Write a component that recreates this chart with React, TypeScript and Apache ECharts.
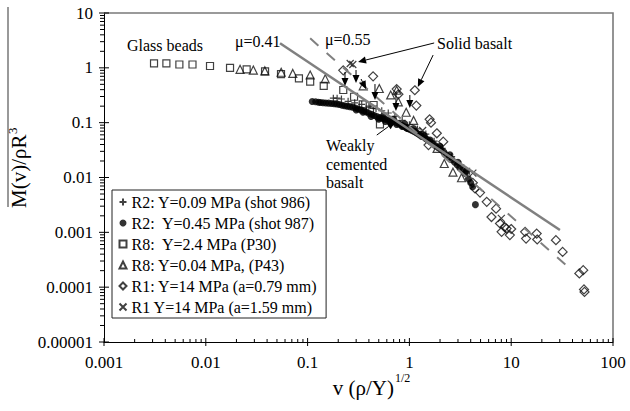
import React, { useEffect, useRef } from 'react';
import * as echarts from 'echarts';

const FONT = 'Liberation Serif, Times New Roman, serif';

// Axis ticks (log scales)
const xTickLabels = ['0.001', '0.01', '0.1', '1', '10', '100'];
const yTickLabels = ['0.00001', '0.0001', '0.001', '0.01', '0.1', '1', '10'];
const X_MIN = 0.001;
const X_MAX = 100;
const Y_MIN = 0.00001;
const Y_MAX = 10;

const seriesNames = [
  'R2: Y=0.09 MPa (shot 986)',
  'R2:  Y=0.45 MPa (shot 987)',
  'R8:  Y=2.4 MPa (P30)',
  'R8: Y=0.04 MPa, (P43)',
  'R1: Y=14 MPa (a=0.79 mm)',
  'R1 Y=14 MPa (a=1.59 mm)',
];

// R2, Y=0.09 MPa, shot 986
const r2Shot986 = [
  [0.179, 0.28], [0.195, 0.28], [0.215, 0.27], [0.25, 0.245], [0.29, 0.23],
  [0.34, 0.215], [0.4, 0.2], [0.47, 0.18], [0.535, 0.165], [0.62, 0.15],
  [0.72, 0.13], [0.85, 0.11], [1.0, 0.092], [1.2, 0.077], [1.45, 0.062],
  [1.75, 0.046], [2.1, 0.034], [2.6, 0.024], [3.2, 0.017], [3.9, 0.013],
];

// R2, Y=0.45 MPa, shot 987
const r2Shot987 = [
  [0.111, 0.243], [0.12, 0.24], [0.128, 0.235], [0.134, 0.233], [0.142, 0.231],
  [0.151, 0.229], [0.161, 0.227], [0.172, 0.224], [0.183, 0.222], [0.193, 0.22],
  [0.205, 0.214], [0.218, 0.208], [0.231, 0.203], [0.245, 0.199], [0.26, 0.196],
  [0.277, 0.192], [0.295, 0.185], [0.313, 0.178], [0.333, 0.171], [0.355, 0.164],
  [0.377, 0.156], [0.399, 0.149], [0.425, 0.142], [0.45, 0.135], [0.479, 0.129],
  [0.51, 0.124], [0.54, 0.12], [0.574, 0.116], [0.61, 0.112], [0.65, 0.109],
  [0.689, 0.105], [0.74, 0.1], [0.79, 0.095], [0.826, 0.091], [0.87, 0.087],
  [0.92, 0.082], [0.96, 0.079], [1.0, 0.076], [1.05, 0.073], [1.1, 0.07],
  [1.15, 0.067], [1.19, 0.064], [1.25, 0.06], [1.32, 0.056], [1.43, 0.052],
  [1.5, 0.049], [1.6, 0.045], [1.71, 0.041], [1.8, 0.038], [1.92, 0.035],
  [2.05, 0.032], [2.18, 0.029], [2.3, 0.026], [2.46, 0.0234], [2.62, 0.021],
  [2.78, 0.019], [2.95, 0.0169], [3.12, 0.015], [3.32, 0.0135], [3.54, 0.0119],
  [3.8, 0.0095], [4.0, 0.008], [4.18, 0.0068], [4.45, 0.0032],
  [0.3, 0.17], [0.35, 0.155], [0.42, 0.13], [0.5, 0.115], [0.58, 0.105],
  [0.66, 0.1], [0.75, 0.093], [0.85, 0.085], [0.95, 0.078], [1.3, 0.062],
  [1.6, 0.048], [2.0, 0.037], [2.5, 0.026], [3.0, 0.019], [3.6, 0.013],
  [0.55, 0.13], [0.7, 0.115], [0.9, 0.095], [1.1, 0.078], [1.4, 0.058],
];

// R8, Y=2.4 MPa, P30 (glass beads)
const r8P30 = [
  [0.0031, 1.21], [0.0041, 1.21], [0.0055, 1.15], [0.0074, 1.15], [0.011, 1.08],
  [0.0173, 1.0], [0.0252, 0.94], [0.0382, 0.86], [0.0548, 0.77], [0.0822, 0.64],
  [0.106, 0.56], [0.144, 0.47], [0.224, 0.394], [0.286, 0.297], [0.348, 0.216],
  [0.41, 0.165], [0.445, 0.21], [0.514, 0.093],
];

// R8, Y=0.04 MPa, P43
const r8P43 = [
  [0.0217, 0.94], [0.0293, 0.91], [0.038, 0.88], [0.055, 0.83], [0.0715, 0.79],
  [0.106, 0.74], [0.149, 0.63], [0.352, 0.47], [0.506, 0.42], [0.655, 0.32],
  [0.75, 0.39], [0.778, 0.24], [0.93, 0.155], [1.1, 0.11], [1.87, 0.034],
  [2.2, 0.018], [2.68, 0.0125], [3.25, 0.0099],
];

// R1, Y=14 MPa, a=0.79 mm
const r1Small = [
  [0.224, 0.9], [0.44, 0.7], [0.75, 0.41], [0.78, 0.33], [1.13, 0.39],
  [1.17, 0.205], [1.58, 0.115], [1.63, 0.1], [1.54, 0.039], [1.86, 0.064],
  [2.15, 0.045], [4.2, 0.008], [4.41, 0.0063], [4.94, 0.0053], [5.75, 0.0036],
  [7.1, 0.0027], [6.4, 0.0019], [7.76, 0.00145], [8.05, 0.00102], [8.6, 0.00125],
  [9.0, 0.00117], [9.7, 0.00089], [10.0, 0.00115], [13.7, 0.00102], [14, 0.00077],
  [17.8, 0.00095], [18, 0.00074], [27.5, 0.00072], [32, 0.00044], [46.7, 0.000178],
  [51, 0.000204], [51.9, 0.000091], [52.5, 0.000082],
];

// R1, Y=14 MPa, a=1.59 mm
const r1Large = [
  [0.262, 1.2], [0.278, 1.15], [1.35, 0.072], [4.2, 0.012], [8.0, 0.0018],
];

// Power-law guide lines
const mu041Line = [[0.0536, 2.8], [30.1, 0.0011]];
const mu055Line = [[0.106, 3.45], [39.3, 0.000204]];

// Pointer arrows: [fromX, fromY, toX, toY] in data units
const arrows = [
  [1.75, 2.84, 0.313, 1.28],
  [1.71, 1.71, 1.21, 0.447],
  [0.478, 0.0594, 0.723, 0.104],
  [0.233, 0.837, 0.233, 0.466],
  [0.299, 0.912, 0.299, 0.529],
  [0.335, 0.625, 0.375, 0.41],
  [0.459, 0.506, 0.459, 0.258],
  [0.738, 0.361, 0.738, 0.163],
  [1.01, 0.319, 1.01, 0.185],
];

const hollow = { color: 'none', borderColor: '#111', borderWidth: 1.2 };

function scatter(name: string, data: number[][], symbol: string, size: number, itemStyle: any) {
  return {
    name,
    type: 'scatter',
    data,
    symbol,
    symbolSize: size,
    itemStyle,
    z: 2,
  };
}

export default function App() {
  const ref = useRef<HTMLDivElement>(null);

  useEffect(() => {
    if (!ref.current) return;
    document.body.style.margin = '0';
    const chart = echarts.init(ref.current, null, { renderer: 'svg' });

    const option: any = {
      animation: false,
      backgroundColor: '#fff',
      textStyle: { fontFamily: FONT },
      grid: { left: 104, right: 17, top: 13, bottom: 69, show: false },
      xAxis: {
        type: 'log',
        logBase: 10,
        min: X_MIN,
        max: X_MAX,
        axisLine: { show: true, lineStyle: { color: '#000', width: 1 } },
        axisTick: { show: false },
        splitLine: { show: false },
        axisLabel: {
          margin: 12,
          color: '#000',
          fontFamily: FONT,
          fontSize: 17,
          formatter: (v: number) => xTickLabels[Math.round(Math.log10(v)) + 3],
        },
      },
      yAxis: {
        type: 'log',
        logBase: 10,
        min: Y_MIN,
        max: Y_MAX,
        axisLine: { show: true, lineStyle: { color: '#000', width: 1 } },
        axisTick: { show: false },
        splitLine: { show: false },
        axisLabel: {
          margin: 11,
          color: '#000',
          fontFamily: FONT,
          fontSize: 17,
          formatter: (v: number) => yTickLabels[Math.round(Math.log10(v)) + 5],
        },
      },
      legend: {
        data: seriesNames,
        orient: 'vertical',
        left: 112,
        top: 190,
        padding: [4, 9, 3, 5],
        itemGap: 5,
        itemWidth: 7,
        itemHeight: 7,
        borderColor: '#222',
        borderWidth: 1,
        backgroundColor: '#fff',
        textStyle: { fontFamily: FONT, fontSize: 16, color: '#000', lineHeight: 16 },
      },
      series: [
        scatter(seriesNames[2], r8P30, 'rect', 7, hollow),
        scatter(seriesNames[3], r8P43, 'triangle', 8, hollow),
        scatter(seriesNames[4], r1Small, 'diamond', 9, hollow),
        scatter(seriesNames[5], r1Large, 'path://M0,0L10,10M10,0L0,10', 7, hollow),
        scatter(seriesNames[0], r2Shot986, 'path://M5,0L5,10M0,5L10,5', 7, hollow),
        scatter(seriesNames[1], r2Shot987, 'circle', 7, { color: '#000' }),
        {
          name: 'mu041',
          type: 'line',
          data: mu041Line,
          showSymbol: false,
          symbol: 'none',
          lineStyle: { color: '#808080', width: 2.5 },
          z: 3,
        },
        {
          name: 'mu055',
          type: 'line',
          data: mu055Line,
          showSymbol: false,
          symbol: 'none',
          lineStyle: { color: '#808080', width: 2, type: [11, 11] },
          z: 3,
        },
      ],
    };

    chart.setOption(option);

    const px = (x: number, y: number) =>
      chart.convertToPixel({ gridIndex: 0 }, [x, y]) as number[];
    const els: any[] = [];
    const tickStyle = { stroke: '#000', lineWidth: 1 };

    // Decade and minor ticks on the x axis
    for (let d = -3; d <= 2; d++) {
      const p = px(Math.pow(10, d), Y_MIN);
      els.push({ type: 'line', shape: { x1: p[0], y1: p[1] - 4, x2: p[0], y2: p[1] + 4 }, style: tickStyle, z: 10 });
      if (d < 2) {
        for (let k = 2; k <= 9; k++) {
          const q = px(k * Math.pow(10, d), Y_MIN);
          els.push({ type: 'line', shape: { x1: q[0], y1: q[1], x2: q[0], y2: q[1] - 3 }, style: tickStyle, z: 10 });
        }
      }
    }
    // Decade and minor ticks on the y axis
    for (let d = -5; d <= 1; d++) {
      const p = px(X_MIN, Math.pow(10, d));
      els.push({ type: 'line', shape: { x1: p[0] - 5, y1: p[1], x2: p[0] + 5, y2: p[1] }, style: tickStyle, z: 10 });
      if (d < 1) {
        for (let k = 2; k <= 9; k++) {
          const q = px(X_MIN, k * Math.pow(10, d));
          els.push({ type: 'line', shape: { x1: q[0] - 4, y1: q[1], x2: q[0], y2: q[1] }, style: tickStyle, z: 10 });
        }
      }
    }

    // Top and right frame
    const tl = px(X_MIN, Y_MAX);
    const br = px(X_MAX, Y_MIN);
    els.push({
      type: 'polyline',
      shape: { points: [[tl[0], tl[1]], [br[0], tl[1]], [br[0], br[1]]] },
      style: { stroke: '#7a7a7a', lineWidth: 1.6, fill: 'none' },
      z: 9,
    });

    // Arrows
    arrows.forEach(([x1, y1, x2, y2]) => {
      const a = px(x1, y1);
      const b = px(x2, y2);
      const dx = b[0] - a[0];
      const dy = b[1] - a[1];
      const len = Math.sqrt(dx * dx + dy * dy) || 1;
      const ux = dx / len;
      const uy = dy / len;
      const hl = 8;
      const hw = 3.5;
      const bx = b[0] - ux * hl;
      const by = b[1] - uy * hl;
      els.push({ type: 'line', shape: { x1: a[0], y1: a[1], x2: bx, y2: by }, style: { stroke: '#000', lineWidth: 1 }, z: 20 });
      els.push({
        type: 'polygon',
        shape: { points: [[b[0], b[1]], [bx - uy * hw, by + ux * hw], [bx + uy * hw, by - ux * hw]] },
        style: { fill: '#000' },
        z: 20,
      });
    });

    const label = (text: string, x: number, y: number, size = 16, align = 'left') => ({
      type: 'text',
      x,
      y,
      z: 30,
      style: {
        text,
        fill: '#000',
        fontFamily: FONT,
        fontSize: size,
        align,
        verticalAlign: 'middle',
      },
    });

    els.push(label('Glass beads', 127, 45));
    els.push(label('μ=0.41', 235, 41));
    els.push(label('μ=0.55', 325, 39));
    els.push(label('Solid basalt', 437, 43));
    els.push(label('Weakly', 326, 145));
    els.push(label('cemented', 326, 164));
    els.push(label('basalt', 326, 182));

    // X axis title with superscript
    els.push(label('v (ρ/Y)', 394, 388, 21, 'right'));
    els.push(label('1/2', 395, 378, 12));

    // Y axis title (rotated) with overline
    els.push({
      type: 'line',
      shape: { x1: 8, y1: 7, x2: 8, y2: 207 },
      style: { stroke: '#777', lineWidth: 1.5 },
      z: 30,
    });
    els.push({
      type: 'group',
      x: 19,
      y: 168,
      rotation: Math.PI / 2,
      z: 30,
      children: [
        { ...label('M(v)/ρR', -40, 0, 21), z: 30 },
        { ...label('3', 34, -7, 13), z: 30 },
      ],
    });

    chart.setOption({ graphic: { elements: els } });

    return () => {
      chart.dispose();
    };
  }, []);

  return <div ref={ref} style={{ width: 630, height: 411 }} />;
}
